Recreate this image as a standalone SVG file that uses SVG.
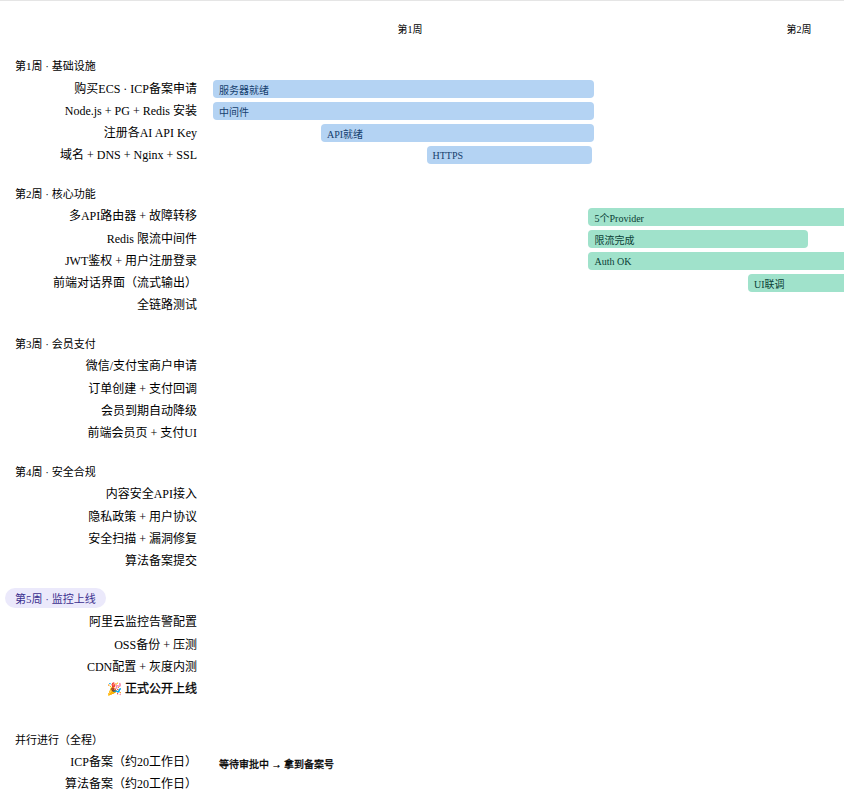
<svg xmlns="http://www.w3.org/2000/svg" width="844" height="798" viewBox="0 0 844 798">
<style>
text{font-family:"Liberation Serif","Noto Sans CJK SC",serif;fill:#000}
.t{font-size:12px;text-anchor:end}
.h{font-size:11px}
.w{font-size:10px;text-anchor:middle}
.b{font-size:10px}
.bl{fill:#b4d3f3}
.gr{fill:#a0e2cb}
.bt{fill:#15406e}
.gt{fill:#0a4036}
.s{stroke:#000;stroke-width:.3px}
</style>
<rect width="844" height="798" fill="#fff"/>
<rect width="844" height="1" fill="#e5e5e5"/>
<g id="axis"><text class="w" x="410" y="33">第1周</text><text class="w" x="799" y="33">第2周</text></g>
<g id="sections">
<text class="h" x="15" y="69.5">第1周 · 基础设施</text>
<text class="h" x="15" y="197.5">第2周 · 核心功能</text>
<text class="h" x="15" y="347.5">第3周 · 会员支付</text>
<text class="h" x="15" y="475.5">第4周 · 安全合规</text>
<g id="sec5"><rect x="5" y="588" width="101" height="20" rx="10" fill="#ebe9fb"/><text class="h" x="15" y="603" style="fill:#3b2f8f">第5周 · 监控上线</text></g>
<text class="h" x="15" y="744">并行进行（全程）</text>
</g>
<g id="tasks">
<text class="t" x="197" y="93">购买ECS · ICP备案申请</text>
<text class="t" x="197" y="115">Node.js + PG + Redis 安装</text>
<text class="t" x="197" y="137">注册各AI API Key</text>
<text class="t" x="197" y="159">域名 + DNS + Nginx + SSL</text>
<text class="t" x="197" y="220">多API路由器 + 故障转移</text>
<text class="t" x="197" y="243">Redis 限流中间件</text>
<text class="t" x="197" y="265">JWT鉴权 + 用户注册登录</text>
<text class="t" x="197" y="287">前端对话界面（流式输出）</text>
<text class="t" x="197" y="309">全链路测试</text>
<text class="t" x="197" y="370">微信/支付宝商户申请</text>
<text class="t" x="197" y="393">订单创建 + 支付回调</text>
<text class="t" x="197" y="415">会员到期自动降级</text>
<text class="t" x="197" y="437">前端会员页 + 支付UI</text>
<text class="t" x="197" y="498">内容安全API接入</text>
<text class="t" x="197" y="521">隐私政策 + 用户协议</text>
<text class="t" x="197" y="543">安全扫描 + 漏洞修复</text>
<text class="t" x="197" y="565">算法备案提交</text>
<text class="t" x="197" y="626">阿里云监控告警配置</text>
<text class="t" x="197" y="649">OSS备份 + 压测</text>
<text class="t" x="197" y="671">CDN配置 + 灰度内测</text>
<text class="t s" x="197" y="693">🎉 正式公开上线</text>
<text class="t" x="197" y="766">ICP备案（约20工作日）</text>
<text class="t" x="197" y="788">算法备案（约20工作日）</text>
</g>
<g id="bars-week1">
<g id="b1"><rect class="bl" x="213" y="80" width="381" height="18" rx="4"/><text class="b bt" x="219" y="94">服务器就绪</text></g>
<g id="b2"><rect class="bl" x="213" y="102" width="381" height="18" rx="4"/><text class="b bt" x="219" y="116">中间件</text></g>
<g id="b3"><rect class="bl" x="321" y="124" width="273" height="18" rx="4"/><text class="b bt" x="327" y="138">API就绪</text></g>
<g id="b4"><rect class="bl" x="427" y="146" width="165" height="18" rx="4"/><text class="b bt" x="432.5" y="159">HTTPS</text></g>
</g>
<g id="bars-week2">
<g id="g1"><rect class="gr" x="588" y="208" width="262" height="18" rx="4"/><text class="b gt" x="594.5" y="222">5个Provider</text></g>
<g id="g2"><rect class="gr" x="588" y="230" width="220" height="18" rx="4"/><text class="b gt" x="594.5" y="244">限流完成</text></g>
<g id="g3"><rect class="gr" x="588" y="252" width="262" height="18" rx="4"/><text class="b gt" x="594.5" y="265">Auth OK</text></g>
<g id="g4"><rect class="gr" x="748" y="274" width="102" height="18" rx="4"/><text class="b gt" x="754" y="288">UI联调</text></g>
</g>
<g id="note"><text class="s" x="219" y="768" style="font-size:10px">等待审批中 → 拿到备案号</text></g>
</svg>
